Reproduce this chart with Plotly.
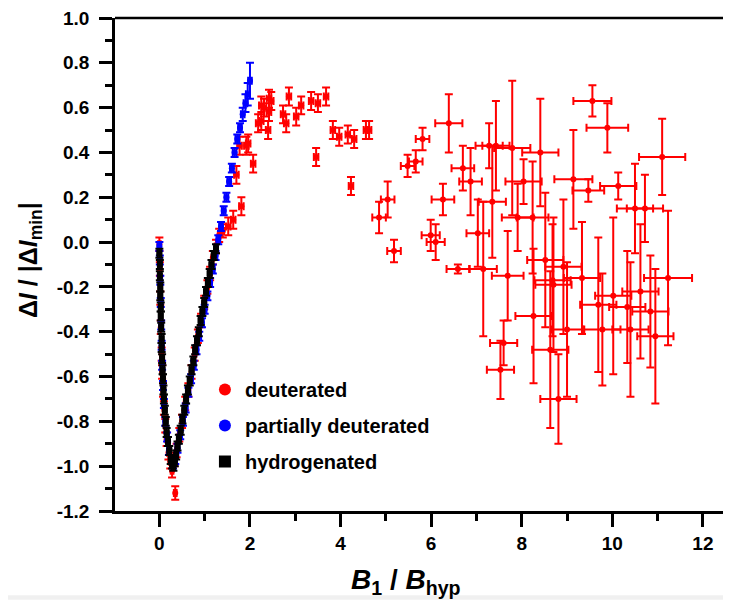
import plotly.graph_objects as go

# ---------------- data ----------------
# hydrogenated (black)
h_x = [0.00,0.01,0.01,0.02,0.02,0.03,0.03,0.04,0.05,0.05,0.06,0.07,0.08,0.09,0.10,0.12,0.14,0.16,0.19,0.22,
       0.25,0.28,0.31,0.34,0.37,0.40,0.43,0.47,0.51,0.55,0.59,0.63,0.67,0.71,0.75,0.79,0.83,0.87,0.91,0.95,
       0.99,1.03,1.07,1.11,1.15,1.20,1.25]
h_y = [-0.05,-0.10,-0.15,-0.20,-0.24,-0.29,-0.33,-0.38,-0.43,-0.47,-0.52,-0.57,-0.61,-0.66,-0.70,-0.75,-0.80,-0.85,-0.89,-0.93,
       -0.97,-0.99,-1.00,-0.98,-0.95,-0.91,-0.88,-0.84,-0.79,-0.75,-0.70,-0.66,-0.62,-0.57,-0.53,-0.48,-0.44,-0.40,-0.35,-0.31,
       -0.27,-0.22,-0.18,-0.14,-0.10,-0.06,-0.03]
h_xerr = [0.04]*len(h_x)
h_yerr = [0.02]*len(h_x)

# partially deuterated (blue)
p_x = [0.00,0.01,0.02,0.03,0.04,0.05,0.06,0.08,0.10,0.13,0.17,0.21,0.26,0.30,0.35,0.40,0.46,0.52,0.58,0.64,
       0.70,0.76,0.82,0.88,0.94,1.00,1.06,1.12,1.18,1.24,1.30,1.36,1.42,1.48,1.54,1.60,1.66,1.72,1.78,1.84,
       1.90,1.95,2.00]
p_y = [-0.02,-0.08,-0.17,-0.27,-0.37,-0.46,-0.55,-0.64,-0.72,-0.80,-0.87,-0.93,-0.97,-0.99,-0.97,-0.92,-0.86,-0.80,-0.74,-0.67,
       -0.61,-0.55,-0.48,-0.42,-0.36,-0.30,-0.24,-0.18,-0.12,-0.06,0.01,0.07,0.14,0.20,0.27,0.33,0.40,0.46,0.51,0.57,
       0.62,0.66,0.72]
p_xerr = [0.04]*len(p_x)
p_yerr = [0.02]*39 + [0.03,0.04,0.05,0.08]

# deuterated (red)
d_x = [0.00,0.01,0.02,0.03,0.05,0.06,0.08,0.10,0.13,0.16,0.20,0.24,0.28,0.35,0.33,0.38,0.44,0.50,0.57,0.64,
       0.71,0.78,0.85,0.92,0.99,1.06,1.12,1.18,1.25,1.32,1.40,
       1.52,1.63,1.70,1.81,1.77,1.92,1.96,2.07,2.18,2.25,2.25,2.31,2.42,2.42,2.47,2.40,2.73,2.80,2.86,3.02,
       3.13,3.35,3.50,3.68,3.46,3.83,3.97,4.16,4.30,4.23,4.56,4.63,
       5.04,4.85,5.18,5.48,5.66,5.81,6.39,6.26,5.99,6.10,6.59,6.70,6.87,7.03,7.15,7.35,7.43,7.28,7.79,7.69,
       7.60,7.53,8.41,8.04,7.91,8.24,8.52,8.26,8.68,9.56,9.89,11.10,9.14,9.47,10.13,10.50,10.72,8.92,9.33,
       8.70,11.23,10.62,10.02,9.69,10.33,10.84,9.00,9.78,10.40,10.95,8.63,8.81]
d_y = [-0.01,-0.12,-0.25,-0.38,-0.50,-0.58,-0.66,-0.74,-0.82,-0.88,-0.94,-0.98,-1.02,-1.12,-0.97,-0.93,-0.86,-0.80,-0.72,-0.66,
       -0.58,-0.50,-0.42,-0.35,-0.27,-0.20,-0.14,-0.07,-0.02,0.03,0.05,
       0.07,0.10,0.30,0.16,0.43,0.43,0.44,0.35,0.53,0.54,0.61,0.60,0.64,0.58,0.63,0.50,0.57,0.53,0.65,0.56,
       0.61,0.63,0.62,0.65,0.38,0.50,0.47,0.48,0.46,0.25,0.50,0.50,
       0.19,0.11,-0.04,0.34,0.36,0.46,0.53,0.19,0.03,0.00,-0.12,0.33,0.27,0.04,-0.12,0.18,0.43,0.43,0.42,-0.15,
       -0.45,-0.57,0.40,0.27,0.11,0.11,-0.08,-0.33,-0.17,0.63,0.51,0.38,0.28,0.23,0.25,0.15,0.15,-0.11,-0.16,
       -0.19,-0.16,-0.22,-0.24,-0.28,-0.29,-0.31,-0.39,-0.39,-0.39,-0.42,-0.48,-0.70]
d_xerr = [0.03]*31 + [0.05]*32 + [
       0.15,0.15,0.15,0.15,0.15,0.15,0.30,0.25,0.20,0.20,0.25,0.25,0.25,0.25,0.30,0.30,0.30,0.30,0.40,0.35,
       0.30,0.30,0.40,0.40,0.35,0.35,0.40,0.40,0.40,0.42,0.46,0.51,0.42,0.35,0.40,0.40,0.40,0.40,0.40,
       0.40,0.53,0.40,0.40,0.40,0.40,0.40,0.35,0.40,0.40,0.40,0.40,0.40]
d_yerr = [0.03]*31 + [0.04]*32 + [
       0.08,0.07,0.05,0.05,0.05,0.05,0.13,0.07,0.07,0.08,0.02,0.10,0.15,0.15,0.30,0.25,0.20,0.10,0.30,0.20,
       0.10,0.13,0.24,0.10,0.15,0.25,0.30,0.30,0.25,0.07,0.11,0.17,0.22,0.05,0.06,0.20,0.15,0.30,0.25,
       0.30,0.30,0.30,0.35,0.30,0.25,0.25,0.30,0.25,0.30,0.30,0.35,0.20]

y_ticks = [1.0,0.8,0.6,0.4,0.2,0.0,-0.2,-0.4,-0.6,-0.8,-1.0,-1.2]
y_tick_labels = ["1.0","0.8","0.6","0.4","0.2","0.0","-0.2","-0.4","-0.6","-0.8","-1.0","-1.2"]
x_ticks = [0,2,4,6,8,10,12]

# ---------------- figure ----------------
FONT = "Liberation Sans, Arial, sans-serif"

def trace(x, y, xe, ye, name, color, symbol, size):
    return go.Scatter(
        x=x, y=y, mode="markers", name=f"<b>{name}</b>", legendgroup=name,
        marker=dict(color=color, size=size, symbol=symbol),
        error_x=dict(type="data", array=xe, color=color, thickness=2, width=4),
        error_y=dict(type="data", array=ye, color=color, thickness=2, width=4),
    )

fig = go.Figure()
fig.add_trace(trace(d_x, d_y, d_xerr, d_yerr, "deuterated", "#ff0000", "circle", 6))
fig.add_trace(trace(p_x, p_y, p_xerr, p_yerr, "partially deuterated", "#0000ff", "circle", 6))
fig.add_trace(trace(h_x, h_y, h_xerr, h_yerr, "hydrogenated", "#000000", "square", 6))

axis_common = dict(showgrid=False, zeroline=False, showline=True, linecolor="black", linewidth=2.5,
                   ticks="outside", ticklen=13, tickwidth=2.5, tickcolor="black",
                   tickfont=dict(size=19, family=FONT), ticklabeloverflow="allow")

fig.update_layout(
    width=723, height=592,
    margin=dict(l=107, r=0, t=6, b=89),
    paper_bgcolor="white", plot_bgcolor="white",
    font=dict(family=FONT, color="black"),
    showlegend=True,
    legend=dict(x=0.146, y=0.286, xanchor="left", yanchor="top",
                bgcolor="rgba(0,0,0,0)", tracegroupgap=7,
                font=dict(size=20, family=FONT), itemsizing="constant"),
    xaxis=dict(range=[-0.98, 12.62], tickvals=x_ticks,
               ticktext=[f"<b>{v}</b>" for v in x_ticks],
               minor=dict(dtick=1, ticks="outside", ticklen=7, tickwidth=2.5, tickcolor="black", showgrid=False),
               **axis_common),
    yaxis=dict(range=[-1.2, 1.0], tickvals=y_ticks,
               ticktext=[f"<b>{t}</b>" for t in y_tick_labels],
               minor=dict(dtick=0.1, ticks="outside", ticklen=7, tickwidth=2.5, tickcolor="black", showgrid=False),
               ticklabelstandoff=6,
               **axis_common),
    annotations=[
        dict(text="<b><i>B</i><sub>1</sub> / <i>B</i><sub>hyp</sub></b>", xref="paper", yref="paper",
             x=0.472, y=-0.143, xanchor="center", yanchor="middle", showarrow=False,
             font=dict(size=28, family=FONT)),
        dict(text="<b>Δ<i>I</i> / |Δ<i>I</i><sub>min</sub>|</b>", xref="paper", yref="paper",
             x=-0.138, y=0.509, xanchor="center", yanchor="middle", showarrow=False, textangle=-90,
             font=dict(size=25, family=FONT)),
    ],
    shapes=[
        dict(type="line", xref="paper", yref="paper", x0=0, x1=1, y0=1, y1=1,
             line=dict(color="black", width=2.5)),
        dict(type="rect", xref="paper", yref="paper", x0=-0.2, x1=1.0, y0=-0.171, y1=-0.18,
             fillcolor="#f0f0f0", line=dict(width=0), layer="below"),
    ],
)

fig.write_html("out.html")
